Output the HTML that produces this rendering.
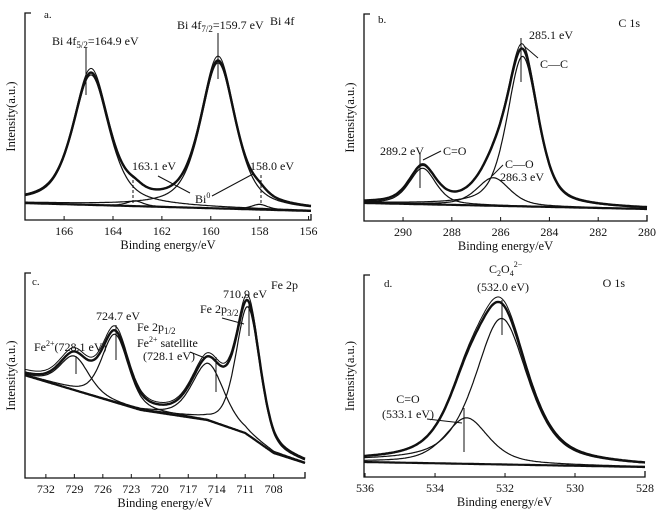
<!DOCTYPE html>
<html><head><meta charset="utf-8"><style>
body{margin:0;background:#fff}
svg{display:block;font-family:"Liberation Serif",serif}
text{fill:#111}
</style></head><body>
<svg id="s" width="660" height="519" viewBox="0 0 660 519"></svg>
<script>
// Panel a: Bi 4f
const aPeaks=[[164.9,100,1.75],[159.7,112,1.7],[163.1,4,0.8],[158.0,4,0.8]];
const aBg=[[167.6,3],[156,-3]];
const aTicks=[166,164,162,160,158,156];
// Panel b: C 1s
const bPeaks=[[285.1,150,1.5],[289.2,36,1.3],[286.3,28,1.6]];
const bBg=[[291.6,4],[280,-2]];
const bTicks=[290,288,286,284,282,280];
// Panel c: Fe 2p
const cPeaks=[[710.7,128,3.0],[724.7,68,3.3],[729.0,34,3.6],[714.9,57,4.0]];
const cBg=[[734.3,103],[722,68],[715,58],[711,45],[708,25],[704.7,15]];
const cTicks=[732,729,726,723,720,717,714,711,708];
// Panel d: O 1s
const dPeaks=[[532.1,146,1.8],[533.1,46,1.5]];
const dBg=[[536.03,4],[528,-1]];
const dTicks=[536,534,532,530,528];

const S=document.getElementById('s');const NS='http://www.w3.org/2000/svg';
function mk(t,a,txt){const e=document.createElementNS(NS,t);for(const k in a)e.setAttribute(k,a[k]);if(txt!=null)e.textContent=txt;S.appendChild(e);return e;}
function pv(x,c,h,w,eta){const d=(x-c)/(w/2);return h*(eta/(1+d*d)+(1-eta)*Math.exp(-Math.log(2)*d*d));}
function bgAt(bg,v){for(let i=0;i<bg.length-1;i++){const [v0,y0]=bg[i],[v1,y1]=bg[i+1];if(v<=v0&&v>=v1)return y0+(y1-y0)*(v-v0)/(v1-v0);}return v>bg[0][0]?bg[0][1]:bg[bg.length-1][1];}
function panel(P){
  const X=v=>P.x0+(P.v0-v)*(P.x1-P.x0)/(P.v0-P.v1);
  const Y=i=>P.base-i*P.ys;
  let e=mk('path',{d:`M${P.x0+6} ${P.top}H${P.x0}V${P.bot}H${P.x1}V${P.bot-6}`,fill:'none',stroke:'#111','stroke-width':1.3});
  
  P.ticks.forEach(t=>{
    const x=X(t);
    let tk=mk('line',{x1:x,x2:x,y1:P.bot,y2:P.bot-4,stroke:'#111','stroke-width':1});
    
    let tl=mk('text',{x:x,y:P.bot+15,'font-size':12,'text-anchor':'middle'},String(t));
    
  });
  let xt=mk('text',{x:(P.x0+P.x1)/2,y:P.bot+29,'font-size':12.5,'text-anchor':'middle'},'Binding energy/eV');
  
  const cy=(P.top+P.bot)/2;
  let yt=mk('text',{x:P.x0-10,y:cy,'font-size':12.5,'text-anchor':'middle',transform:`rotate(-90 ${P.x0-10} ${cy})`},'Intensity(a.u.)');
  
  const N=260,vs=[];for(let k=0;k<=N;k++)vs.push(P.v0-(P.v0-P.v1)*k/N);
  const path=f=>vs.map((v,k)=>(k?'L':'M')+X(v).toFixed(1)+' '+Y(f(v)).toFixed(1)).join('');
  let bl=mk('path',{d:path(v=>bgAt(P.bg,v)),fill:'none',stroke:'#111','stroke-width':2.2});
  
  P.peaks.forEach((p,i)=>{
    let c=mk('path',{d:path(v=>bgAt(P.bg,v)+pv(v,p[0],p[1],p[2],P.eta)),fill:'none',stroke:'#111','stroke-width':1.2});
    
  });
  const env=v=>bgAt(P.bg,v)+P.peaks.reduce((s,p)=>s+pv(v,p[0],p[1],p[2],P.eta),0);
  let en=mk('path',{d:path(env),fill:'none',stroke:'#111','stroke-width':2.4});
  
  let en2=mk('path',{d:path(v=>env(v)*1.03),fill:'none',stroke:'#111','stroke-width':1});
  
  return {X,Y,env};
}
function T(x,y,s,name,size,anchor){let t=mk('text',{x:x,y:y,'font-size':size||12,'text-anchor':anchor||'start'});t.innerHTML=s;return t;}
function L(x1,y1,x2,y2,name,dash,w){let l=mk('line',{x1,y1,x2,y2,stroke:'#111','stroke-width':w||1,'stroke-dasharray':dash||'none'});return l;}

panel({id:'panel-a',x0:25,x1:311,v0:167.6,v1:155.9,top:13,bot:220,base:207,ys:1.3,eta:0.6,peaks:aPeaks,bg:aBg,ticks:aTicks});
panel({id:'panel-b',x0:364,x1:647,v0:291.6,v1:280,top:14,bot:221,base:207,ys:1,eta:0.5,peaks:bPeaks,bg:bBg,ticks:bTicks});
panel({id:'panel-c',x0:25,x1:305,v0:734.2,v1:704.7,top:273,bot:478,base:478,ys:1,eta:0.4,peaks:cPeaks,bg:cBg,ticks:cTicks});
panel({id:'panel-d',x0:364,x1:645,v0:536.03,v1:528,top:275,bot:477,base:466,ys:1,eta:0.6,peaks:dPeaks,bg:dBg,ticks:dTicks});

// panel a annotations
T(44,18,'a.','panel-a-letter',11);
T(270,25,'Bi 4f','panel-a-title');
T(52,45,'Bi 4f<tspan font-size="9" dy="3">5/2</tspan><tspan dy="-3">=164.9 eV</tspan>','label-bi-4f52');
T(177,29,'Bi 4f<tspan font-size="9" dy="3">7/2</tspan><tspan dy="-3">=159.7 eV</tspan>','label-bi-4f72');
L(86,48,86,95,'marker-bi-4f52');L(218,33,218,79,'marker-bi-4f72');
T(132,170,'163.1 eV','label-163-1');T(250,170,'158.0 eV','label-158-0');
L(133,175,133,205,'marker-163-1','3,2');L(261,175,261,205,'marker-158-0','3,2');
T(195,203,'Bi<tspan font-size="8" dy="-5">0</tspan>','label-bi0');
L(190,193,158,176,'arrow-bi0-left');L(212,196,253,174,'arrow-bi0-right');

// panel b annotations
T(640,27,'C 1s','panel-b-title',12,'end');T(378,23,'b.','panel-b-letter',11);
T(529,39,'285.1 eV','label-285-1');L(521,38,521,82,'marker-285-1');
T(540,68,'C—C','label-c-c');L(524,46,538,58,'arrow-c-c');
T(380,155,'289.2 eV','label-289-2');T(443,155,'C=O','label-c-o-double');L(423,160,441,151,'arrow-c-o-double');
L(420,153,420,188,'marker-289-2');
T(505,168,'C—O','label-c-o');T(500,181,'286.3 eV','label-286-3');L(492,176,503,165,'arrow-c-o');

// panel c annotations
T(32,285,'c.','panel-c-letter',11);
T(298,289,'Fe 2p','panel-c-title',12,'end');
T(223,298,'710.9 eV','label-710-9');L(249,304,249,336,'marker-710-9');
T(200,313,'Fe 2p<tspan font-size="9" dy="3">3/2</tspan>','label-fe-2p32');L(222,318,244,324,'arrow-fe-2p32');
T(96,320,'724.7 eV','label-724-7');L(116,325,116,360,'marker-724-7');
T(137,331,'Fe 2p<tspan font-size="9" dy="3">1/2</tspan>','label-fe-2p12');
T(137,347,'Fe<tspan font-size="8" dy="-5">2+</tspan><tspan dy="5"> satellite</tspan>','label-fe2-satellite');
T(143,360,'(728.1 eV)','label-sat-728-1');L(190,352,205,358,'arrow-satellite');
T(34,351,'Fe<tspan font-size="8" dy="-5">2+</tspan><tspan dy="5">(728.1 eV)</tspan>','label-fe2-728-1');
L(76,356,76,374,'marker-728-1');L(216,357,216,392,'marker-714-9');

// panel d annotations
T(384,287,'d.','panel-d-letter',11);
T(625,287,'O 1s','panel-d-title',12,'end');
T(489,273,'C<tspan font-size="8" dy="3">2</tspan><tspan dy="-3">O</tspan><tspan font-size="8" dy="3">4</tspan><tspan font-size="8" dy="-9">2−</tspan>','label-c2o4');
T(503,291,'(532.0 eV)','label-532-0',12,'middle');L(502,300,502,335,'marker-532-0');
T(408,403,'C=O','label-c-o-d',12,'middle');T(408,418,'(533.1 eV)','label-533-1',12,'middle');
L(464,408,464,452,'marker-533-1');L(427,419,462,423,'arrow-533-1');
</script>
</body></html>
